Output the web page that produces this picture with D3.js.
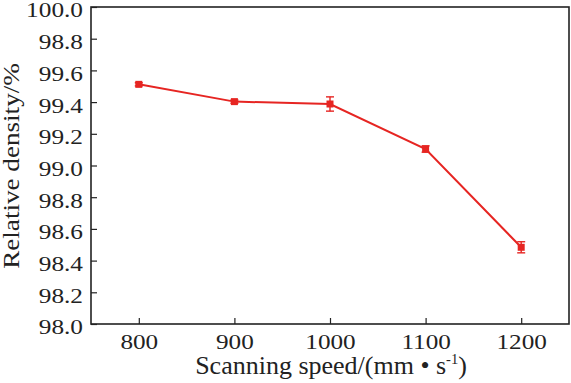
<!DOCTYPE html>
<html><head><meta charset="utf-8">
<script src="https://cdn.jsdelivr.net/npm/d3@7/dist/d3.min.js"></script>
<style>body{margin:0;background:#fff}svg{display:block}text{font-family:"Liberation Serif","Times New Roman",serif;fill:#222}</style>
</head><body><svg id="c" width="571" height="383"></svg>
<script>
const speeds = [800, 900, 1000, 1100, 1200];
const density = [99.512, 99.403, 99.388, 99.104, 98.484];
const errors = [0.01, 0.01, 0.045, 0.02, 0.035];
const yTickValues = [100.0, 99.8, 99.6, 99.4, 99.2, 99.0, 98.8, 98.6, 98.4, 98.2, 98.0];
const yTickLabels = ["100.0", "98.8", "99.6", "99.4", "99.2", "99.0", "98.8", "98.6", "98.4", "98.2", "98.0"];
const xTickValues = [800, 900, 1000, 1100, 1200];

const svg = d3.select("#c");
const L = 91, R = 569, T = 7, B = 324;
const x = d3.scaleLinear().domain([750, 1250]).range([L, R]);
const y = d3.scaleLinear().domain([98, 100]).range([B, T]);
const red = "#e62522";

svg.append("rect").attr("x", L).attr("y", T).attr("width", R - L).attr("height", B - T)
  .attr("fill", "none").attr("stroke", "#222").attr("stroke-width", 1.6);

const yAxis = svg.append("g").attr("transform", `translate(${L},0)`)
  .call(d3.axisLeft(y).tickValues(yTickValues).tickSize(-6).tickPadding(8)
    .tickFormat((d, i) => yTickLabels[i]));
const xAxis = svg.append("g").attr("transform", `translate(0,${B})`)
  .call(d3.axisBottom(x).tickValues(xTickValues).tickSize(-6).tickPadding(10).tickFormat(d3.format("d")));
[yAxis, xAxis].forEach(g => {
  g.attr("font-family", null);
  g.select(".domain").remove();
  g.selectAll(".tick line").attr("stroke", "#222").attr("stroke-width", 1.2);
  g.selectAll(".tick text").attr("fill", "#222");
});
yAxis.selectAll(".tick text").attr("font-size", 22).attr("x", 0).attr("dy", "0.36em")
  .attr("transform", "translate(-8,2) scale(1.15,1)");
xAxis.selectAll(".tick text").attr("font-size", 21).attr("transform", "scale(1.2,1)");

const line = d3.line().x((d, i) => x(speeds[i])).y(d => y(d));
svg.append("path").datum(density).attr("d", line).attr("fill", "none")
  .attr("stroke", red).attr("stroke-width", 2);

const eb = svg.append("g").attr("stroke", red).attr("stroke-width", 1.4);
density.forEach((d, i) => {
  const cx = x(speeds[i]);
  eb.append("line").attr("x1", cx).attr("x2", cx).attr("y1", y(d + errors[i])).attr("y2", y(d - errors[i]));
  [d + errors[i], d - errors[i]].forEach(v =>
    eb.append("line").attr("x1", cx - 4).attr("x2", cx + 4).attr("y1", y(v)).attr("y2", y(v)));
});
svg.append("g").selectAll("rect").data(density).join("rect")
  .attr("x", (d, i) => x(speeds[i]) - 3.5).attr("y", d => y(d) - 3.5)
  .attr("width", 7).attr("height", 7).attr("fill", red);

svg.append("text").attr("transform", "translate(331,374) scale(1.04,1)").attr("text-anchor", "middle")
  .attr("font-size", 25)
  .html('Scanning speed/(mm • s<tspan dy="-10" font-size="14">-1</tspan><tspan dy="10">)</tspan>');

svg.append("text").attr("transform", "translate(19,166) rotate(-90) scale(1.18,1)")
  .attr("text-anchor", "middle").attr("font-size", 23).text("Relative density/%");
</script></body></html>
